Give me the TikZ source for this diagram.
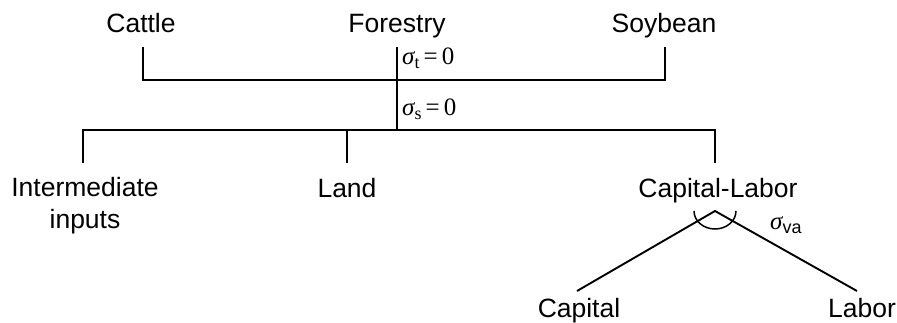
\documentclass[tikz,border=0pt]{standalone}
\usepackage{fontspec}
\setmainfont{Liberation Sans}
\newfontfamily\serifm{Liberation Serif}
\newcommand{\sgm}{{\serifm\itshape σ}}
\begin{document}
\begin{tikzpicture}[x=1pt,y=-1pt,
  lab/.style={font=\fontsize{26.5}{28}\selectfont, anchor=base, inner sep=0pt},
  sig/.style={font=\fontsize{25}{27}\selectfont\serifm, anchor=base west, inner sep=0pt},
  ln/.style={line width=1.9pt}]
\useasboundingbox (0,0) rectangle (897,322);
% texts
\node[lab] (cattle) at (141,32) {Cattle};
\node[lab] (forestry) at (397,32) {Forestry};
\node[lab] (soy) at (664,32) {Soybean};
\node[lab, align=center] (inter) at (85,228) {Intermediate\\[3.5pt]inputs};
\node[lab] (land) at (347,197) {Land};
\node[lab] (cl) at (718,197) {Capital-Labor};
\node[lab] (capital) at (579,317) {Capital};
\node[lab] (labor) at (862,317) {Labor};
\node[sig] (st) at (402,64) {\sgm\raisebox{-4.5pt}{\fontsize{18}{19}\selectfont t}\,=\,0};
\node[sig] (ss) at (402,115) {\sgm\raisebox{-4.5pt}{\fontsize{18}{19}\selectfont s}\,=\,0};
\node[sig] (sva) at (770,229) {\sgm\raisebox{-4pt}{\fontsize{18}{19}\selectfont\rmfamily va}};
% junction coordinates
\coordinate (c1) at (143,47);
\coordinate (c2) at (143,80);
\coordinate (s1) at (665,47);
\coordinate (s2) at (665,80);
\coordinate (f1) at (397,47);
\coordinate (f2) at (397,130);
\coordinate (hL) at (83,130);
\coordinate (hR) at (715,130);
\coordinate (i1) at (83,163);
\coordinate (l0) at (347,130);
\coordinate (l1) at (347,163);
\coordinate (k1) at (715,163);
\coordinate (apex) at (715,211);
\coordinate (capE) at (577,291);
\coordinate (labE) at (857,291);
% connectors
\draw[ln] (c1) -- (c2) -- (s2) -- (s1);
\draw[ln] (f1) -- (f2);
\draw[ln] (i1) -- (hL) -- (hR) -- (k1);
\draw[ln] (l0) -- (l1);
\draw[ln] (capE) -- (apex) -- (labE);
\draw[line width=1.5pt] ([xshift=-21pt]apex) arc[start angle=180, end angle=0, x radius=21, y radius=18];
\end{tikzpicture}
\end{document}
